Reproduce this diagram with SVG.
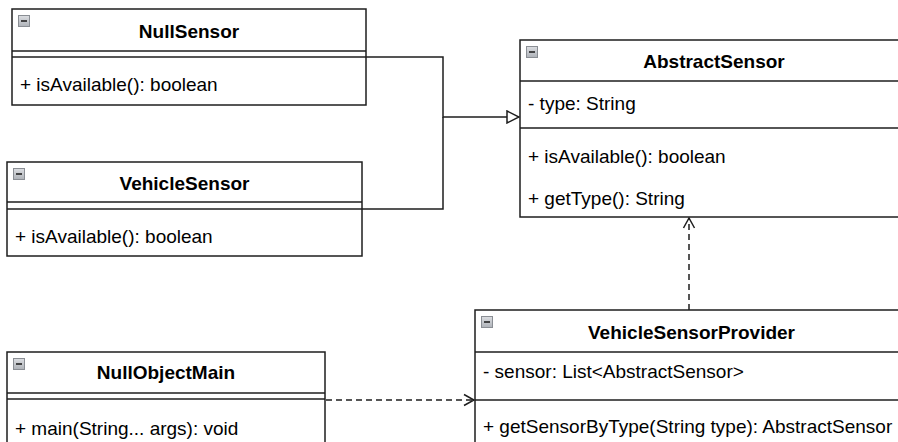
<svg xmlns="http://www.w3.org/2000/svg" width="898" height="442" viewBox="0 0 898 442">
<style>
.box{fill:#fff;stroke:#1e1e1e;stroke-width:1.5}
.ln{stroke:#1e1e1e;stroke-width:1.5;fill:none}
.t{font-family:"Liberation Sans",Arial,sans-serif;font-size:19px;fill:#000}
.b{font-weight:bold;text-anchor:middle}
.dash{stroke:#1e1e1e;stroke-width:1.5;fill:none;stroke-dasharray:6 4}
</style>
<defs>
<linearGradient id="ig" x1="0" y1="0" x2="0" y2="1">
<stop offset="0" stop-color="#dcdee2"/>
<stop offset="1" stop-color="#aeb2b8"/>
</linearGradient>
<g id="icon">
<rect x="0.5" y="0.5" width="11" height="11" fill="url(#ig)" stroke="#8a8e94" stroke-width="1"/>
<line x1="3" y1="6" x2="9" y2="6" stroke="#222" stroke-width="1.6"/>
</g>
<marker id="tri" markerWidth="14" markerHeight="14" refX="13" refY="7" orient="auto" markerUnits="userSpaceOnUse">
<path d="M1,1 L13,7 L1,13 Z" fill="#fff" stroke="#1e1e1e" stroke-width="1.5"/>
</marker>
<marker id="open" markerWidth="14" markerHeight="14" refX="12" refY="7" orient="auto" markerUnits="userSpaceOnUse">
<path d="M2,1.5 L12,7 L2,12.5" fill="none" stroke="#1e1e1e" stroke-width="1.5"/>
</marker>
</defs>

<g id="connectors">
<path class="ln" d="M366,57 H443 V117 H519" marker-end="url(#tri)"/>
<path class="ln" d="M362,209 H443 V117"/>
<path class="dash" d="M689,310 V218" marker-end="url(#open)"/>
<path class="dash" d="M326,400 H474" marker-end="url(#open)"/>
</g>

<g id="NullSensor">
<rect class="box" x="12" y="9" width="354" height="96"/>
<line class="ln" x1="12" y1="51" x2="366" y2="51"/>
<line class="ln" x1="12" y1="57" x2="366" y2="57"/>
<use href="#icon" x="18" y="15"/>
<text class="t b" x="189" y="38">NullSensor</text>
<text class="t" x="20" y="91">+ isAvailable(): boolean</text>
</g>

<g id="VehicleSensor">
<rect class="box" x="7" y="162" width="355" height="94"/>
<line class="ln" x1="7" y1="202" x2="362" y2="202"/>
<line class="ln" x1="7" y1="209" x2="362" y2="209"/>
<use href="#icon" x="13" y="168"/>
<text class="t b" x="184.5" y="190">VehicleSensor</text>
<text class="t" x="15" y="243">+ isAvailable(): boolean</text>
</g>

<g id="AbstractSensor">
<rect class="box" x="520" y="40" width="388" height="177"/>
<line class="ln" x1="520" y1="81" x2="908" y2="81"/>
<line class="ln" x1="520" y1="128" x2="908" y2="128"/>
<use href="#icon" x="526" y="46"/>
<text class="t b" x="714" y="68">AbstractSensor</text>
<text class="t" x="528" y="110">- type: String</text>
<text class="t" x="528" y="163">+ isAvailable(): boolean</text>
<text class="t" x="528" y="205">+ getType(): String</text>
</g>

<g id="NullObjectMain">
<rect class="box" x="7" y="352" width="318" height="110"/>
<line class="ln" x1="7" y1="393" x2="325" y2="393"/>
<line class="ln" x1="7" y1="399" x2="325" y2="399"/>
<use href="#icon" x="13" y="358"/>
<text class="t b" x="166" y="379">NullObjectMain</text>
<text class="t" x="15" y="435">+ main(String... args): void</text>
</g>

<g id="VehicleSensorProvider">
<rect class="box" x="475" y="310" width="433" height="150"/>
<line class="ln" x1="475" y1="352" x2="908" y2="352"/>
<line class="ln" x1="475" y1="400" x2="908" y2="400"/>
<use href="#icon" x="481" y="316"/>
<text class="t b" x="691.5" y="339">VehicleSensorProvider</text>
<text class="t" x="483" y="378">- sensor: List&lt;AbstractSensor&gt;</text>
<text class="t" x="483" y="433">+ getSensorByType(String type): AbstractSensor</text>
</g>
</svg>
